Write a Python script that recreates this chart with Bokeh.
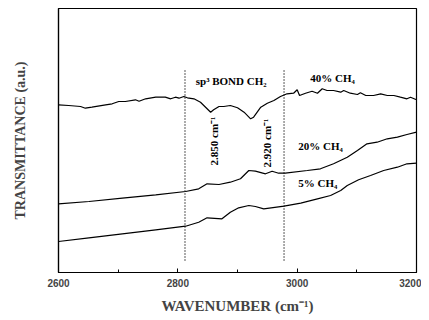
from bokeh.plotting import figure
from bokeh.models import Range1d, FixedTicker, Label
from bokeh.embed import file_html
from bokeh.resources import INLINE
import math

# Wavenumber (cm^-1) and transmittance (arbitrary units)
wn_40 = [2600, 2617, 2637, 2645, 2656, 2679, 2690, 2701, 2712, 2729, 2735, 2746, 2763, 2779,
         2788, 2796, 2802, 2810, 2816, 2827, 2838, 2855, 2860, 2869, 2877, 2888, 2900, 2911,
         2922, 2927, 2939, 2950, 2961, 2972, 2983, 2994, 3000, 3004, 3014, 3025, 3034, 3042,
         3050, 3061, 3073, 3078, 3089, 3101, 3106, 3115, 3128, 3140, 3151, 3162, 3173, 3184,
         3190, 3200]
tr_40 = [167.7, 167, 166, 164.3, 165.3, 167.7, 168.7, 171, 171, 172.7, 171.3, 173.7, 175.3, 175.3,
         173.7, 175.3, 174.3, 176, 174.7, 173.7, 170.3, 160.3, 162.7, 166, 166, 167, 164.7, 160.3,
         153.7, 155.3, 165.3, 169.3, 172, 176, 178.7, 179.3, 182.7, 177, 179.3, 181.3, 179.3, 183.7,
         182, 182, 180.3, 182, 179.3, 178, 179.7, 177, 177, 178.7, 177, 177, 175.3, 173.7,
         175.3, 172.7]

wn_20 = [2600, 2651, 2707, 2763, 2813, 2835, 2849, 2869, 2888, 2905, 2919, 2930, 2947, 2958,
         2969, 2980, 3017, 3039, 3061, 3084, 3101, 3117, 3134, 3151, 3168, 3184, 3200]
tr_20 = [68.7, 71, 74.3, 77.7, 81, 83.7, 88.7, 88, 90.3, 93.7, 102, 101.3, 98.7, 101.3,
         99.3, 99.3, 102, 103.7, 108.7, 115.3, 122, 128.7, 130.3, 133.7, 135.3, 138, 140.3]

wn_5 = [2600, 2651, 2707, 2763, 2813, 2835, 2849, 2874, 2888, 2902, 2919, 2930, 2944, 2978,
        3006, 3034, 3056, 3073, 3084, 3103, 3123, 3145, 3168, 3184, 3200]
tr_5 = [31, 34.7, 38.7, 42.7, 46.3, 50.3, 54.7, 53.7, 60.3, 64.7, 67, 66, 63.7, 66.3,
        69.3, 73.7, 77, 82, 87, 92.7, 97, 102, 105.3, 108.7, 109.3]

marker_wn = [2812, 2978]
x_ticks = [2600, 2800, 3000, 3200]
x_minor = [2700, 2900, 3100]

SERIF = "Liberation Serif"

p = figure(width=421, height=320, output_backend="svg", toolbar_location=None,
           x_range=Range1d(2600, 3200), y_range=Range1d(0, 264),
           min_border_left=58, min_border_right=5, min_border_top=8, min_border_bottom=48)

p.background_fill_color = "white"
p.border_fill_color = "white"
p.outline_line_color = "black"
p.outline_line_width = 1.2
p.grid.visible = False

# x axis
xa = p.xaxis[0]
xa.ticker = FixedTicker(ticks=x_ticks, minor_ticks=x_minor)
xa.major_tick_in = 4
xa.major_tick_out = 0
xa.minor_tick_in = 3
xa.minor_tick_out = 0
xa.axis_line_width = 1.2
xa.major_label_text_font = "Liberation Sans"
xa.major_label_text_font_style = "bold"
xa.major_label_text_font_size = "10px"
xa.major_label_standoff = 6
xa.axis_label = "WAVENUMBER (cm\u207B\u00B9)"
xa.axis_label_text_font = SERIF
xa.axis_label_text_font_style = "bold"
xa.axis_label_text_font_size = "15px"
xa.axis_label_standoff = 8

# y axis: no ticks
ya = p.yaxis[0]
ya.ticker = FixedTicker(ticks=[])
ya.major_tick_in = 0
ya.major_tick_out = 0
ya.minor_tick_in = 0
ya.minor_tick_out = 0
ya.axis_line_width = 1.2
ya.major_label_text_font_size = "0px"
ya.axis_label = "TRANSMITTANCE (a.u.)"
ya.axis_label_text_font = SERIF
ya.axis_label_text_font_style = "bold"
ya.axis_label_text_font_size = "14px"
ya.axis_label_standoff = 31

# spectra
for wn, tr in ((wn_40, tr_40), (wn_20, tr_20), (wn_5, tr_5)):
    p.line(wn, tr, line_color="black", line_width=1.2)

# dotted markers
for m in marker_wn:
    p.line([m, m], [12, 202], line_color="black", line_width=1.3, line_dash="1 2")

def lab(x, y, text, angle=0.0, align="left"):
    p.add_layout(Label(x=x, y=y, text=text, angle=angle, text_font=SERIF,
                       text_font_style="bold", text_font_size="11px",
                       text_align=align, text_baseline="middle", text_color="black"))

lab(2830, 192, "sp\u00B3 BOND CH\u2082")
lab(3022, 195, "40% CH\u2084")
lab(3002, 127, "20% CH\u2084")
lab(3002, 90, "5% CH\u2084")
lab(2860, 107, "2.850 cm\u207B\u00B9", angle=math.pi / 2)
lab(2950, 105, "2.920 cm\u207B\u00B9", angle=math.pi / 2)

open("out.html", "w").write(file_html(p, INLINE))
